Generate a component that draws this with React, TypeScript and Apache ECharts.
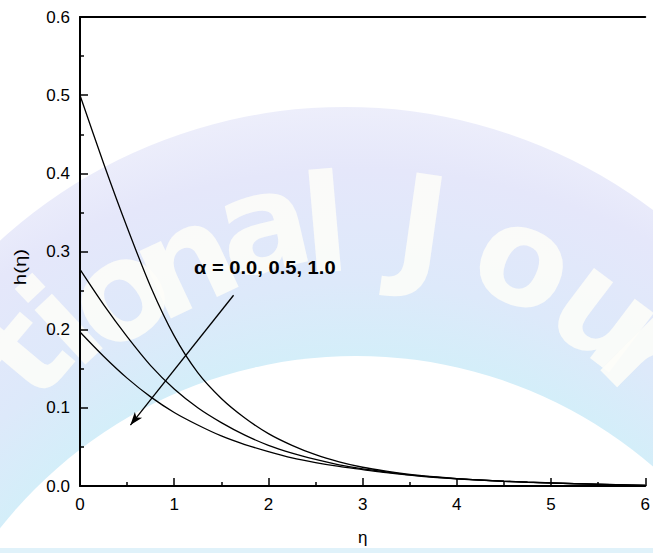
import React, { useEffect, useRef } from "react";
import * as echarts from "echarts";

// Similarity variable η and the profiles h(η) for three values of α
const eta = [
  0, 0.25, 0.5, 0.75, 1.0, 1.25, 1.5, 1.75, 2.0, 2.25, 2.5, 2.75, 3.0,
  3.25, 3.5, 3.75, 4.0, 4.25, 4.5, 4.75, 5.0, 5.25, 5.5, 5.75, 6.0,
];
const hAlpha00 = [
  0.5, 0.413, 0.331, 0.255, 0.192, 0.145, 0.112, 0.087, 0.067, 0.052, 0.04,
  0.031, 0.024, 0.019, 0.015, 0.012, 0.0095, 0.0077, 0.0062, 0.005, 0.004,
  0.0031, 0.0023, 0.0015, 0.0008,
];
const hAlpha05 = [
  0.277, 0.232, 0.191, 0.154, 0.124, 0.1, 0.081, 0.065, 0.052, 0.042,
  0.034, 0.027, 0.022, 0.018, 0.0143, 0.0115, 0.0093, 0.0076, 0.0061, 0.0049,
  0.0039, 0.003, 0.0022, 0.0014, 0.0007,
];
const hAlpha10 = [
  0.197, 0.166, 0.138, 0.114, 0.094, 0.078, 0.064, 0.053, 0.044, 0.036, 0.03,
  0.025, 0.021, 0.017, 0.0138, 0.0112, 0.0091, 0.0075, 0.006, 0.0048, 0.0038,
  0.0029, 0.0021, 0.0014, 0.0007,
];
const seriesNames = ["α = 0.0", "α = 0.5", "α = 1.0"];
const annotation = "α = 0.0, 0.5, 1.0";
// arrow across the curves, in data coordinates (η, h)
const arrowFrom = [1.63, 0.244];
const arrowTo = [0.535, 0.078];

// Watermark letters: glyph centre, tilt in degrees, x-height glyph flag
const watermark: [string, number, number, number, boolean][] = [
  ["t", 22, 352, 50, false],
  ["i", 62, 322, 43, false],
  ["o", 125, 303, 35, true],
  ["n", 190, 272, 25, true],
  ["a", 266, 236, 13, true],
  ["l", 325, 225, 5, false],
  ["J", 422, 226, -8, false],
  ["o", 520, 270, -23, true],
  ["u", 600, 323, -37, true],
  ["r", 640, 362, -45, true],
];

const FONT = '"Liberation Sans", Arial, Helvetica, sans-serif';
const MARK_FONT = '"DejaVu Sans", "Liberation Sans", sans-serif';

export default function App() {
  const ref = useRef<HTMLDivElement>(null);

  useEffect(() => {
    if (!ref.current) return;
    const chart = echarts.init(ref.current, undefined, { renderer: "svg" });

    const toPairs = (ys: number[]) => eta.map((x, i) => [x, ys[i]]);

    const bg: any[] = [
      {
        type: "circle",
        z: -10,
        z2: 1,
        silent: true,
        shape: { cx: 345, cy: 619, r: 512 },
        style: {
          fill: new echarts.graphic.RadialGradient(
            356,
            810,
            712,
            [
              { offset: 0.62, color: "#d2eff9" },
              { offset: 0.74, color: "#dde9fa" },
              { offset: 0.9, color: "#e5e7fa" },
              { offset: 1, color: "#eeeffb" },
            ],
            true
          ),
        },
      },
      {
        type: "circle",
        z: -10,
        z2: 2,
        silent: true,
        shape: { cx: 356, cy: 810, r: 454 },
        style: { fill: "#ffffff" },
      },
      {
        type: "rect",
        z: -10,
        z2: 3,
        silent: true,
        shape: { x: 0, y: 548, width: 653, height: 5 },
        style: { fill: "#e0f2fa" },
      },
    ];

    const letters = watermark.map(([ch, cx, cy, deg, xh], i) => {
      const th = (deg * Math.PI) / 180;
      const shift = xh ? 13 : 0;
      return {
        type: "text",
        z: -10,
        z2: 10 + i,
        silent: true,
        x: cx - Math.sin(th) * shift,
        y: cy - Math.cos(th) * shift,
        rotation: th,
        style: {
          text: ch,
          font: `bold 136px ${MARK_FONT}`,
          fill: "#fdfdf8",
          opacity: 0.88,
          textAlign: "center",
          textVerticalAlign: "middle",
        },
      };
    });

    const axisCommon = {
      type: "value" as const,
      axisLine: { show: true, onZero: false, lineStyle: { color: "#000", width: 2 } },
      axisTick: { show: true, inside: true, length: 8, lineStyle: { color: "#000", width: 1.5 } },
      minorTick: { show: true, splitNumber: 2, length: 4, lineStyle: { color: "#000", width: 1.5 } },
      splitLine: { show: false },
      minorSplitLine: { show: false },
    };

    const lineSeries = [hAlpha00, hAlpha05, hAlpha10].map((ys, i) => ({
      name: seriesNames[i],
      type: "line",
      data: toPairs(ys),
      showSymbol: false,
      smooth: 0.3,
      lineStyle: { color: "#000", width: 1.3 },
      z: 3,
      ...(i === 0
        ? {
            markLine: {
              silent: true,
              symbol: ["none", "arrow"],
              symbolSize: [7, 13],
              label: { show: false },
              lineStyle: { color: "#000", width: 1.3, type: "solid" },
              data: [[{ coord: arrowFrom }, { coord: arrowTo }]],
            },
          }
        : {}),
    }));

    chart.setOption({
      animation: false,
      backgroundColor: "#ffffff",
      grid: { left: 80, top: 17, width: 576, height: 469, containLabel: false },
      xAxis: [
        {
          ...axisCommon,
          position: "bottom",
          min: 0,
          max: 6,
          interval: 1,
          axisLabel: { color: "#000", fontSize: 17, fontFamily: FONT, margin: 10 },
          name: "η",
          nameLocation: "middle",
          nameGap: 43,
          nameTextStyle: { color: "#000", fontSize: 17, fontFamily: FONT },
        },
        {
          type: "value",
          position: "top",
          min: 0,
          max: 6,
          axisLine: { show: true, onZero: false, lineStyle: { color: "#000", width: 2 } },
          axisTick: { show: false },
          axisLabel: { show: false },
          splitLine: { show: false },
        },
      ],
      yAxis: [
        {
          ...axisCommon,
          min: 0,
          max: 0.6,
          interval: 0.1,
          axisLabel: {
            color: "#000",
            fontSize: 17,
            fontFamily: FONT,
            margin: 10,
            formatter: (v: number) => v.toFixed(1),
          },
        },
      ],
      graphic: [
        ...bg,
        ...letters,
        {
          type: "text",
          z: 50,
          x: 20,
          y: 267,
          rotation: Math.PI / 2,
          scaleX: 1.2,
          style: {
            text: "h(η)",
            font: `17px ${FONT}`,
            fill: "#000",
            textAlign: "center",
            textVerticalAlign: "middle",
          },
        },
        {
          type: "text",
          z: 50,
          x: 194,
          y: 267,
          scaleX: 1.06,
          style: {
            text: annotation,
            font: `bold 19px ${FONT}`,
            fill: "#000",
            textAlign: "left",
            textVerticalAlign: "middle",
          },
        },
      ],
      series: lineSeries,
    });

    return () => chart.dispose();
  }, []);

  return (
    <div
      ref={ref}
      style={{ position: "absolute", left: 0, top: 0, width: 653, height: 553 }}
    />
  );
}
